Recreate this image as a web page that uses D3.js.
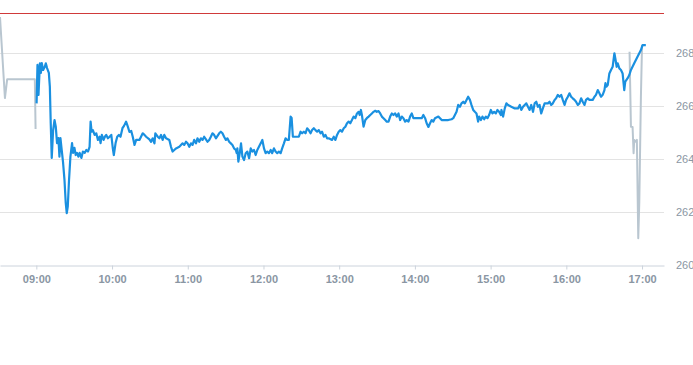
<!DOCTYPE html>
<html><head><meta charset="utf-8">
<script src="https://cdn.jsdelivr.net/npm/d3@7"></script>
<style>
html,body{margin:0;padding:0;background:#fff;}
svg{display:block;font-family:"Liberation Sans",Arial,sans-serif;}
</style></head>
<body><svg id="c" width="693" height="365"></svg>
<script>
// ---- data (minutes after 09:00, price) ----
const sessionMinutes = [0.2,0.9,1.7,2.8,3.6,4.3,5.4,6.7,7.5,8.5,9.9,10.7,11.4,12.2,13.3,14.4,15.4,16.4,17.5,18.3,19.1,20.1,21.2,22.3,23.3,24.1,24.9,25.9,27.0,28.3,29.1,30.2,31.2,32.2,33.3,34.3,35.7,36.9,38.3,39.6,40.9,42.2,43.0,43.8,44.8,46.2,47.5,48.8,50.1,50.9,51.9,53.3,54.3,55.4,56.7,58.0,59.4,60.6,61.4,62.8,64.1,65.4,66.7,68.3,69.5,71.1,72.5,73.8,75.2,76.4,77.8,79.1,81.7,84.3,85.7,87.0,89.6,90.9,92.2,93.6,94.3,96.2,97.5,98.8,100.1,101.4,102.8,105.4,106.7,108.0,109.3,110.7,113.3,115.9,117.2,118.6,119.8,121.2,122.5,123.8,125.1,126.5,127.7,129.1,130.4,131.7,133.0,134.4,135.6,137.0,138.3,139.6,140.9,142.3,144.9,146.2,147.5,148.8,150.2,151.4,152.8,154.1,155.4,156.7,158.1,158.8,159.3,160.1,161.2,162.2,163.3,164.6,165.9,167.2,168.6,169.9,171.2,172.5,173.8,175.1,176.4,177.8,179.1,180.4,181.7,183.0,184.3,185.7,186.9,188.3,189.6,190.9,192.2,193.6,194.8,196.2,197.5,198.8,200.1,201.5,202.3,203.3,205.4,208.0,209.4,210.6,212.0,213.3,214.6,215.9,217.3,218.5,219.9,221.2,222.5,223.8,225.2,226.4,227.8,229.1,230.4,231.7,234.3,235.7,237.0,238.3,239.6,240.9,242.2,243.6,244.9,246.2,247.5,248.8,250.1,251.4,252.8,254.1,255.4,256.2,257.2,258.0,259.3,260.7,261.9,263.3,264.6,265.9,267.2,268.6,269.8,271.2,272.5,273.8,275.1,276.5,277.7,279.1,280.4,281.7,283.0,284.4,285.6,287.0,288.3,289.6,290.9,292.3,293.5,294.9,296.2,297.5,298.8,300.2,302.8,305.4,306.7,308.1,309.3,310.7,312.0,313.3,314.6,315.9,318.6,319.9,321.2,323.8,326.4,329.1,330.4,331.7,333.0,334.3,335.7,336.9,338.3,339.6,340.9,342.2,343.6,344.8,346.2,347.5,348.8,350.1,350.9,352.3,353.5,354.9,356.2,357.5,358.8,360.2,361.4,362.8,364.1,365.4,366.7,368.1,368.6,369.9,371.2,372.5,373.8,376.4,379.1,381.7,383.1,384.3,385.7,387.0,388.3,389.6,390.9,392.2,393.6,394.9,396.2,397.5,398.8,400.1,401.4,402.8,405.4,406.7,408.0,409.3,410.7,411.9,413.3,414.6,415.9,417.2,418.6,419.8,421.2,422.5,423.8,425.1,426.5,427.7,429.1,430.4,431.7,433.0,434.4,435.6,437.0,438.3,440.9,442.3,443.5,444.9,446.2,447.5,448.8,450.2,451.0,451.7,452.8,454.1,455.4,456.7,458.1,458.8,459.9,460.7,462.0,463.3,464.6,465.9,466.7,468.6,469.9,471.2,473.8,476.4,479.1,480.4,483.0];
const sessionValues = [266.10,267.55,266.42,267.61,267.25,267.62,267.36,267.48,267.61,267.43,267.25,266.73,265.36,264.04,265.09,265.47,265.22,264.60,264.79,264.09,264.79,264.34,263.85,263.21,262.34,261.96,262.20,263.21,264.09,264.60,264.23,264.42,264.15,264.23,264.09,264.23,264.04,264.28,264.23,264.34,264.28,264.46,265.41,265.03,265.09,264.91,264.97,264.72,264.84,264.60,264.91,264.72,264.84,264.91,264.78,264.84,264.91,264.40,264.15,264.60,264.84,264.91,264.84,265.17,265.25,265.41,265.22,265.02,265.06,264.84,264.53,264.72,264.72,264.97,264.91,264.84,264.74,264.65,264.78,264.59,264.97,264.84,264.78,264.91,264.72,264.91,264.78,264.72,264.46,264.28,264.34,264.40,264.46,264.59,264.53,264.65,264.59,264.46,264.59,264.53,264.72,264.59,264.78,264.65,264.78,264.72,264.84,264.74,264.65,264.72,264.84,264.97,264.91,264.78,264.97,265.03,264.97,264.84,264.72,264.78,264.65,264.59,264.53,264.40,264.34,264.22,264.40,263.90,264.22,264.59,264.09,263.96,264.22,264.28,264.03,264.40,264.28,264.34,264.15,264.34,264.46,264.59,264.72,264.40,264.22,264.28,264.22,264.34,264.22,264.40,264.28,264.22,264.28,264.22,264.40,264.59,264.78,264.72,264.72,265.60,265.55,264.84,264.84,264.84,265.03,264.97,265.03,264.97,265.16,265.09,264.97,265.09,265.16,265.09,265.03,265.09,264.97,265.03,264.84,264.91,264.78,264.78,264.72,264.84,264.72,264.91,265.03,265.09,265.03,265.16,265.22,265.35,265.41,265.35,265.47,265.60,265.54,265.72,265.78,265.66,265.85,265.66,265.22,265.47,265.54,265.60,265.66,265.72,265.78,265.82,265.78,265.81,265.72,265.60,265.54,265.47,265.41,265.41,265.60,265.72,265.66,265.72,265.60,265.72,265.47,265.60,265.54,265.41,265.47,265.41,265.60,265.72,265.54,265.54,265.54,265.54,265.66,265.54,265.35,265.21,265.35,265.47,265.41,265.54,265.60,265.54,265.47,265.47,265.47,265.50,265.54,265.66,265.78,266.04,265.97,266.10,266.16,266.10,266.23,266.35,266.23,266.04,265.85,265.78,265.72,265.41,265.60,265.47,265.60,265.50,265.60,265.54,265.66,265.85,265.72,265.78,265.72,265.85,265.78,265.66,265.85,265.60,265.91,266.10,266.04,265.97,265.91,265.91,266.04,265.85,265.97,266.04,266.10,265.97,265.85,266.04,265.78,266.10,266.16,265.97,266.04,265.72,265.91,266.10,266.10,266.16,266.04,266.10,266.23,266.29,266.42,266.35,266.42,266.23,266.04,266.23,266.35,266.48,266.35,266.29,266.23,266.16,266.04,266.10,266.29,266.16,266.04,266.23,266.29,266.23,266.23,266.35,266.42,266.60,266.48,266.35,266.42,266.60,266.86,266.73,266.79,267.23,267.36,267.48,267.99,267.80,267.48,267.61,267.42,267.36,267.23,266.60,266.92,267.05,267.17,267.36,267.61,267.86,268.11,268.30,268.30];
const preMinutes = [-28.8,-24.9,-23.1,-1.2,-0.6];
const preValues = [269.36,266.30,267.01,267.01,265.13];
const postMinutes = [470.1,471.2,472.5,473.3,473.8,475.1,475.9,477.0,477.8,479.1,480.0];
const postValues = [268.05,265.22,265.21,264.22,264.72,264.65,264.72,261.01,262.34,266.35,268.30];
const referenceValue = 269.5;
const yTicks = [260, 262, 264, 266, 268];
const xTickHours = [9, 10, 11, 12, 13, 14, 15, 16, 17];
const domainMinutes = [-28.8, 497.4];
const yDomain = [260, 270];

// ---- chart ----
const base = new Date(2024, 0, 2, 9, 0, 0);
const toDate = m => new Date(base.getTime() + m * 60000);
const W = 664, H = 265;
const svg = d3.select("#c");
const x = d3.scaleTime().domain(domainMinutes.map(toDate)).range([0, W]);
const y = d3.scaleLinear().domain(yDomain).range([H, 0]);

// gridlines
svg.append("g").selectAll("line").data(yTicks.filter(v => v !== 260)).join("line")
  .attr("x1", 0).attr("x2", W)
  .attr("y1", d => Math.round(y(d)) + 0.5).attr("y2", d => Math.round(y(d)) + 0.5)
  .attr("stroke", "#e3e3e3").attr("stroke-width", 1);

// x axis
const xAxis = d3.axisBottom(x)
  .tickValues(xTickHours.map(h => new Date(2024, 0, 2, h, 0, 0)))
  .tickFormat(d3.timeFormat("%H:%M"))
  .tickSize(4).tickSizeOuter(0).tickPadding(6);
const gx = svg.append("g").attr("transform", `translate(0,${H + 0.5})`).call(xAxis);
gx.select(".domain").attr("stroke", "#ccd3dc");
gx.selectAll(".tick line").attr("stroke", "#ccd3dc");
gx.selectAll(".tick text").attr("fill", "#8a96a3").attr("font-size", 11).attr("font-weight", "bold")
  .attr("font-family", "'Liberation Sans', Arial, sans-serif");

// y axis (right)
const yAxis = d3.axisRight(y).tickValues(yTicks).tickSize(0).tickPadding(12);
const gy = svg.append("g").attr("transform", `translate(${W},0)`).call(yAxis);
gy.select(".domain").remove();
gy.selectAll(".tick text").attr("fill", "#8a96a3").attr("font-size", 11)
  .attr("font-family", "'Liberation Sans', Arial, sans-serif");

// reference line
svg.append("line").attr("x1", 0).attr("x2", W)
  .attr("y1", Math.round(y(referenceValue)) + 0.5).attr("y2", Math.round(y(referenceValue)) + 0.5)
  .attr("stroke", "#d03a3a").attr("stroke-width", 1);

const clip = svg.append("defs").append("clipPath").attr("id", "clip")
  .append("rect").attr("x", 0).attr("y", 0).attr("width", W).attr("height", H);

const line = d3.line().x(d => x(toDate(d[0]))).y(d => y(d[1]));
const plot = svg.append("g").attr("clip-path", "url(#clip)");
const zip = (a, b) => a.map((m, i) => [m, b[i]]);

plot.append("path").datum(zip(preMinutes, preValues)).attr("d", line)
  .attr("fill", "none").attr("stroke", "#b9c6d0").attr("stroke-width", 2).attr("stroke-linejoin", "round");
plot.append("path").datum(zip(postMinutes, postValues)).attr("d", line)
  .attr("fill", "none").attr("stroke", "#b9c6d0").attr("stroke-width", 2).attr("stroke-linejoin", "round");
plot.append("path").datum(zip(sessionMinutes, sessionValues)).attr("d", line)
  .attr("fill", "none").attr("stroke", "#1a90e0").attr("stroke-width", 2.2).attr("stroke-linejoin", "round");
</script></body></html>
